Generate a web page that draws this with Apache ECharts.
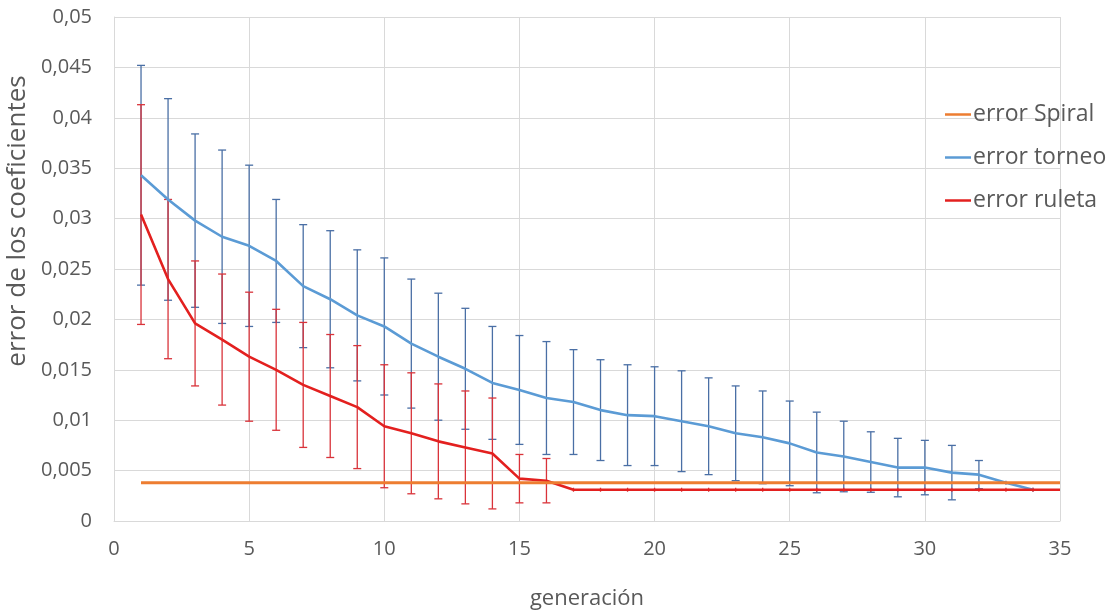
<!DOCTYPE html>
<html><head><meta charset="utf-8">
<script src="https://cdn.jsdelivr.net/npm/echarts@6/dist/echarts.min.js"></script>
<style>html,body{margin:0;padding:0;background:#fff}#c{width:1117px;height:612px}</style>
</head><body><div id="c"></div>
<script>
// generation numbers
const generaciones = [1,2,3,4,5,6,7,8,9,10,11,12,13,14,15,16,17,18,19,20,21,22,23,24,25,26,27,28,29,30,31,32,33,34,35];
// error Spiral (constant reference value)
const errorSpiral = [0.0038,0.0038,0.0038,0.0038,0.0038,0.0038,0.0038,0.0038,0.0038,0.0038,0.0038,0.0038,0.0038,0.0038,0.0038,0.0038,0.0038,0.0038,0.0038,0.0038,0.0038,0.0038,0.0038,0.0038,0.0038,0.0038,0.0038,0.0038,0.0038,0.0038,0.0038,0.0038,0.0038,0.0038,0.0038];
// error torneo (generations 1..34) and its error bar half-width
const errorTorneo = [0.0343,0.0319,0.0298,0.0282,0.0273,0.0258,0.0233,0.0220,0.0204,0.0193,0.0176,0.0163,0.0151,0.0137,0.0130,0.0122,0.0118,0.0110,0.0105,0.0104,0.0099,0.0094,0.0087,0.0083,0.0077,0.0068,0.0064,0.00585,0.0053,0.0053,0.0048,0.0046,0.0038,0.0031];
const desvTorneo = [0.0109,0.0100,0.0086,0.0086,0.0080,0.0061,0.0061,0.0068,0.0065,0.0068,0.0064,0.0063,0.0060,0.0056,0.0054,0.0056,0.0052,0.0050,0.0050,0.0049,0.0050,0.0048,0.0047,0.0046,0.0042,0.0040,0.0035,0.0030,0.0029,0.0027,0.0027,0.0014,0.0002,0.0002];
// error ruleta (generations 1..35) and its error bar half-width
const errorRuleta = [0.0304,0.0240,0.0196,0.0180,0.0163,0.0150,0.0135,0.0124,0.0113,0.0094,0.0087,0.0079,0.0073,0.0067,0.0042,0.0040,0.0031,0.0031,0.0031,0.0031,0.0031,0.0031,0.0031,0.0031,0.0031,0.0031,0.0031,0.0031,0.0031,0.0031,0.0031,0.0031,0.0031,0.0031,0.0031];
const desvRuleta = [0.0109,0.0079,0.0062,0.0065,0.0064,0.0060,0.0062,0.0061,0.0061,0.0061,0.0060,0.0057,0.0056,0.0055,0.0024,0.0022,0.0002,0.0002,0.0002,0.0002,0.0002,0.0002,0.0002,0.0002,0.0002,0.0002,0.0002,0.0002,0.0002,0.0002,0.0002,0.0002,0.0002,0.0002,0];
const nombres = ['error Spiral','error torneo','error ruleta'];

const FONT = '"Open Sans", "Noto Sans", sans-serif';
const TXT = '#595959';

function pares(ys){ return ys.map((y,i)=>[generaciones[i], y]); }
function barras(name, ys, es, color, z){
  return {
    type:'custom', name:name, z:z, silent:true,
    encode:{x:0,y:1},
    data: ys.map((y,i)=>[generaciones[i], y, es[i]]),
    renderItem:function(params, api){
      const x=api.value(0), y=api.value(1), e=api.value(2);
      if(!e) return null;
      const t=api.coord([x,y+e]), b=api.coord([x,y-e]);
      const st={stroke:color,lineWidth:1.3};
      const kids=[{type:'line', shape:{x1:t[0],y1:t[1],x2:b[0],y2:b[1]}, style:st}];
      if (b[1]-t[1] > 6) {
        const w=4;
        kids.push({type:'line', shape:{x1:t[0]-w,y1:t[1],x2:t[0]+w,y2:t[1]}, style:st});
        kids.push({type:'line', shape:{x1:b[0]-w,y1:b[1],x2:b[0]+w,y2:b[1]}, style:st});
      }
      return {type:'group', children:kids};
    }
  };
}

const chart = echarts.init(document.getElementById('c'), null, {renderer:'canvas'});
chart.setOption({
  animation:false,
  backgroundColor:'#fff',
  textStyle:{fontFamily:FONT},
  grid:{left:114, right:57, top:17, bottom:91, containLabel:false, outerBoundsMode:'none'},
  legend:{
    data:nombres, orient:'vertical', left:940, top:98,
    icon:'rect', itemWidth:26, itemHeight:2.5, itemGap:20,
    textStyle:{color:TXT, fontSize:23, lineHeight:23, fontFamily:FONT, padding:[0,0,0,-3]}
  },
  xAxis:{
    type:'value', min:0, max:35, interval:5,
    name:'generación', nameLocation:'middle', nameGap:67,
    nameTextStyle:{color:TXT, fontSize:22, fontFamily:FONT},
    axisLine:{show:true, lineStyle:{color:'#d9d9d9', width:1}},
    axisTick:{show:false},
    axisLabel:{color:TXT, fontSize:20, margin:18, fontFamily:FONT},
    splitLine:{show:true, lineStyle:{color:'#d9d9d9', width:1}}
  },
  yAxis:{
    type:'value', min:0, max:0.05, interval:0.005,
    name:'error de los coeficientes', nameLocation:'middle', nameGap:81, nameRotate:90,
    nameTextStyle:{color:TXT, fontSize:26, fontFamily:FONT, padding:[0,0,0,96]},
    axisLine:{show:true, lineStyle:{color:'#d9d9d9', width:1}},
    axisTick:{show:false},
    axisLabel:{color:TXT, fontSize:20, margin:22, fontFamily:FONT,
      formatter:v=>String(+v.toFixed(4)).replace('.',',')},
    splitLine:{show:true, lineStyle:{color:'#d9d9d9', width:1}}
  },
  series:[
    barras('barras torneo', errorTorneo, desvTorneo, '#4a6fa5', 2),
    barras('barras ruleta', errorRuleta, desvRuleta, '#d9333a', 3),
    {type:'line', name:nombres[1], data:pares(errorTorneo), showSymbol:false, symbol:'none', z:4,
      color:'#5b9bd5', lineStyle:{color:'#5b9bd5', width:2.6}},
    {type:'line', name:nombres[2], data:pares(errorRuleta), showSymbol:false, symbol:'none', z:5,
      color:'#e3201f', lineStyle:{color:'#e3201f', width:2.6}},
    {type:'line', name:nombres[0], data:pares(errorSpiral), showSymbol:false, symbol:'none', z:6,
      color:'#ed7d31', lineStyle:{color:'#ed7d31', width:3}}
  ]
});
</script>
</body></html>
